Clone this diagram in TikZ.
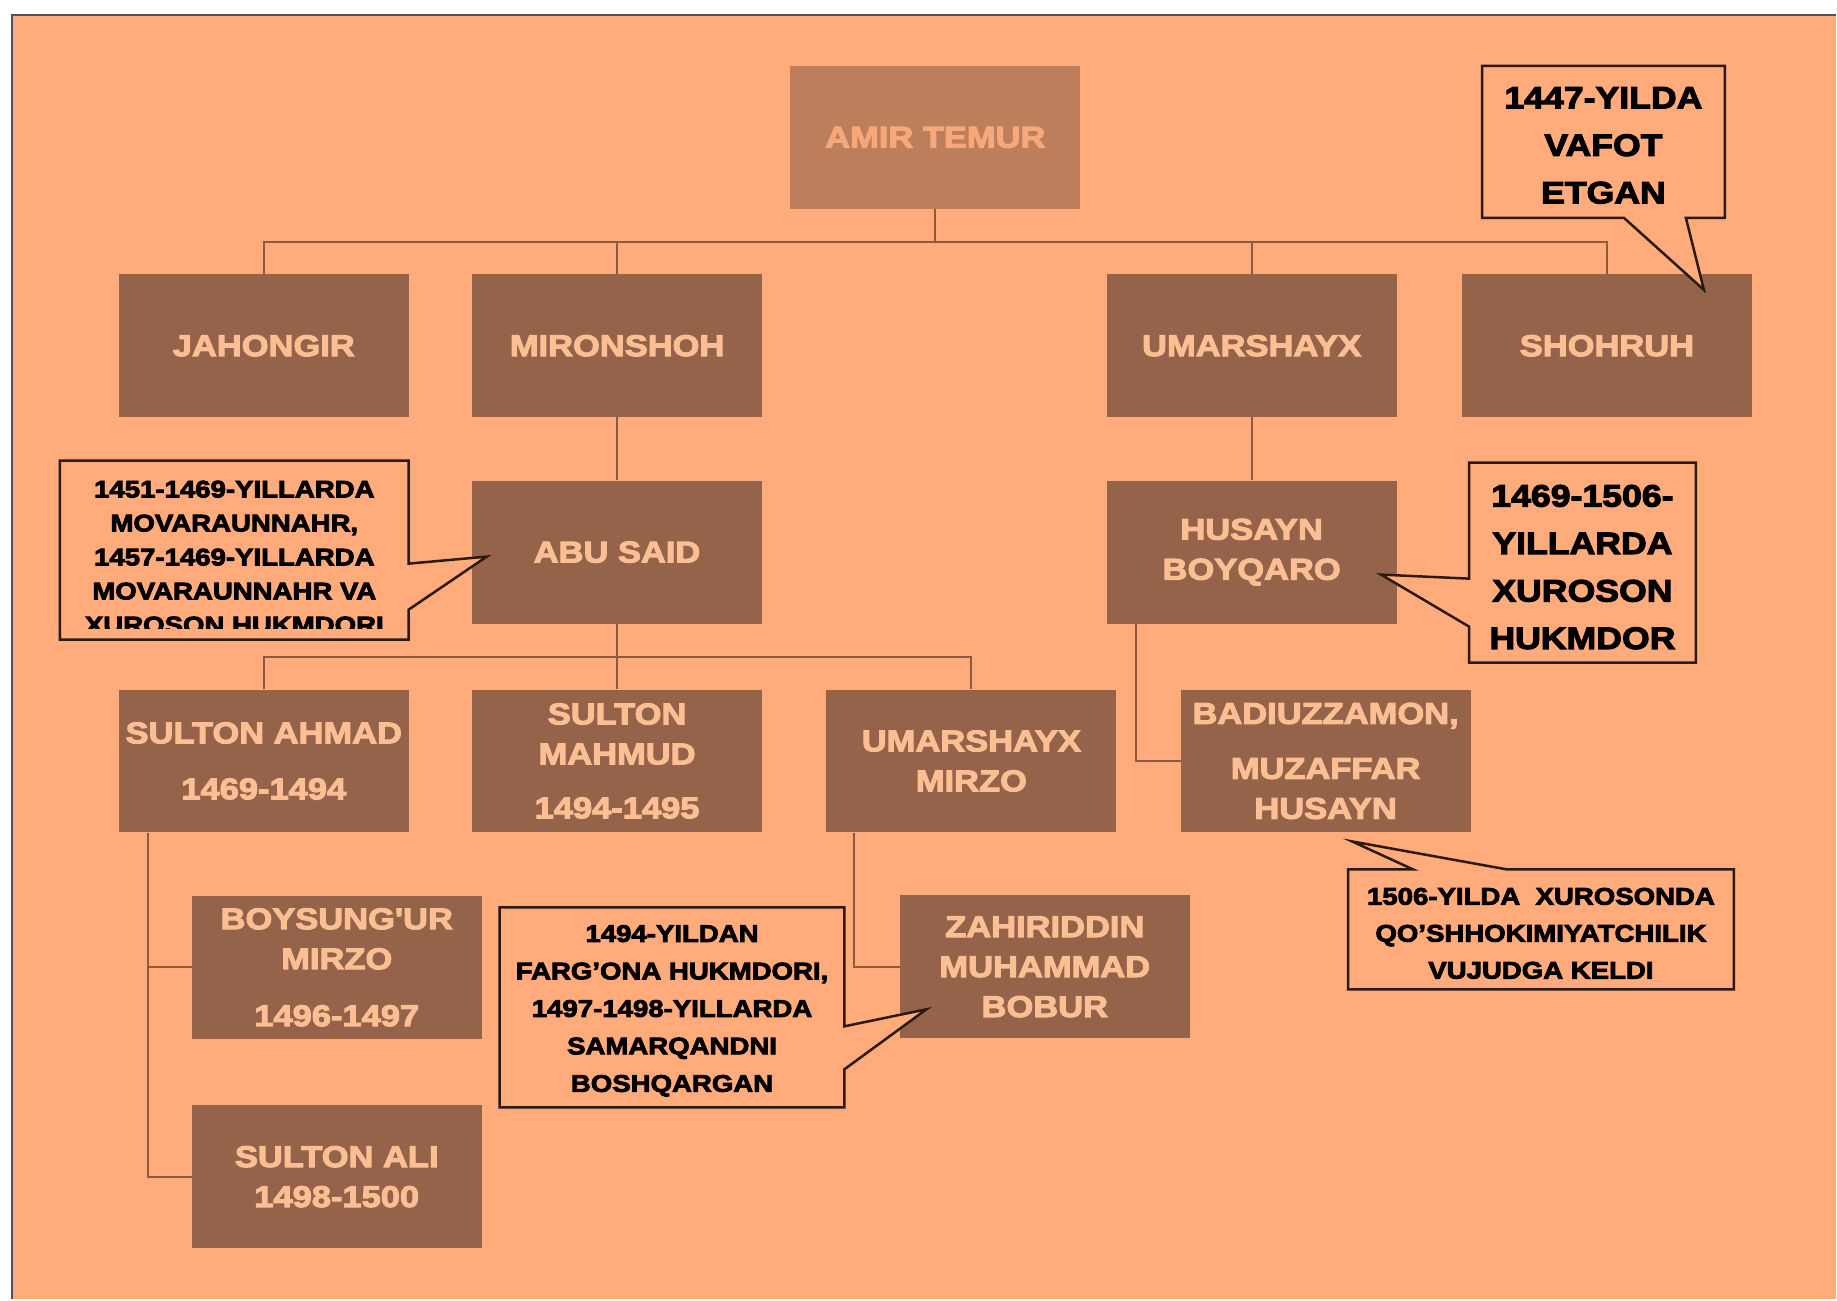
\documentclass[tikz,border=0pt]{standalone}
\usepackage{fontspec}
\newfontfamily\blk{Liberation Sans}[FakeStretch=1.15, Ligatures=TeXOff, BoldFeatures={FakeBold=3.5}]
\definecolor{bg}{HTML}{FFAB7B}
\definecolor{boxc}{HTML}{94634A}
\definecolor{boxt}{HTML}{FBBF93}
\definecolor{topc}{HTML}{BD7E5C}
\definecolor{topt}{HTML}{F7A87A}
\definecolor{linec}{HTML}{8E5A3C}
\definecolor{framec}{HTML}{4F5060}
\definecolor{callc}{HTML}{2A1A10}
\begin{document}
\begin{tikzpicture}[x=1pt,y=-1pt,
  person/.style={fill=boxc, text=boxt, minimum width=290pt, minimum height=143pt,
    inner sep=0pt, align=center, font=\blk\bfseries\fontsize{30}{40}\selectfont},
  link/.style={draw=linec, line width=2pt},
  callbox/.style={draw=callc, fill=bg, line width=2.5pt, line join=miter},
  calltext/.style={text=black, align=center, inner sep=0pt},
  bigcall/.style={calltext, font=\blk\bfseries\fontsize{31}{47.5}\selectfont},
  smallcall/.style={calltext, font=\blk\bfseries\fontsize{24}{34}\selectfont}
]
% page and frame
\fill[white] (0,0) rectangle (1837,1300);
\fill[bg] (12,15) rectangle (1837,1300);
\draw[framec, line width=2.5pt] (12,1300) -- (12,15) -- (1837,15);
\useasboundingbox (0,0) rectangle (1837,1300);

% boxes
\node[person, fill=topc, text=topt] (amir) at (936,137.5) {AMIR TEMUR};
\node[person] (jah)   at (264,346)    {JAHONGIR};
\node[person] (miron) at (617.5,346)  {MIRONSHOH};
\node[person] (umar)  at (1252.5,346) {UMARSHAYX};
\node[person] (shoh)  at (1608,346)   {SHOHRUH};
\node[person] (abu)   at (617.5,552.5)  {ABU SAID};
\node[person] (husayn) at (1252.5,552.5) {HUSAYN\\BOYQARO};
\node[person] (sahmad) at (264,761.5)  {SULTON AHMAD\\[16pt]1469-1494};
\node[person] (smahmud) at (617.5,761.5) {SULTON\\MAHMUD\\[14pt]1494-1495};
\node[person] (umirzo) at (972,761.5)  {UMARSHAYX\\MIRZO};
\node[person] (badi) at (1326.5,761.5) {BADIUZZAMON,\\[15pt]MUZAFFAR\\HUSAYN};
\node[person] (boys) at (337,968)   {BOYSUNG'UR\\MIRZO\\[17pt]1496-1497};
\node[person] (sali) at (337,1177.5) {SULTON ALI\\1498-1500};
\node[person] (bobur) at (1045.5,967.5) {ZAHIRIDDIN\\MUHAMMAD\\BOBUR};

% connectors
\draw[link] (amir.south) -- ++(0,33) coordinate (h1);
\draw[link] (jah.north) -- ++(0,-32) -| (shoh.north);
\draw[link] (miron.north) -- (miron.north |- h1);
\draw[link] (umar.north) -- (umar.north |- h1);
\draw[link] (miron.south) -- (abu.north);
\draw[link] (umar.south) -- (husayn.north);
\draw[link] (abu.south) -- (smahmud.north);
\coordinate (h2) at (617.5,657);
\draw[link] (sahmad.north) |- (h2) -| (umirzo.north);
\draw[link] ([xshift=-115.5pt]husayn.south) |- (badi.west);
\draw[link] ([xshift=-116pt]sahmad.south) |- (sali.west);
\draw[link] ([xshift=-116pt]sahmad.south) |- (boys.west);
\draw[link] ([xshift=-117pt]umirzo.south) |- (bobur.west);

% callout: Shohruh
\draw[callbox] (1483,66) -- (1726,66) -- (1726,218) -- (1687,218) -- (1705,290)
  -- (1625,218) -- (1483,218) -- cycle;
\node[bigcall] (cshoh) at (1604.5,145.5) {1447-YILDA\\VAFOT\\ETGAN};

% callout: Abu Said
\draw[callbox] (60,461) -- (409,461) -- (409,564) -- (487,557) -- (409,610)
  -- (409,640) -- (60,640) -- cycle;
\begin{scope}
\clip (60,461) rectangle (409,629);
\node[smallcall] (cabu) at (234.5,557.5) {1451-1469-YILLARDA\\MOVARAUNNAHR,\\1457-1469-YILLARDA\\MOVARAUNNAHR VA\\XUROSON HUKMDORI};
\end{scope}

% callout: Husayn Boyqaro
\draw[callbox] (1470,463) -- (1697,463) -- (1697,663) -- (1470,663) -- (1470,627)
  -- (1382,575) -- (1470,579) -- cycle;
\node[bigcall] (chus) at (1583.5,567.5) {1469-1506-\\YILLARDA\\XUROSON\\HUKMDOR};

% callout: Bobur
\draw[callbox] (500,908) -- (845,908) -- (845,1027) -- (927,1010) -- (845,1070)
  -- (845,1108) -- (500,1108) -- cycle;
\node[calltext, font=\blk\bfseries\fontsize{24}{37.5}\selectfont] (cbob) at (672.5,1011.5)
  {1494-YILDAN\\FARG’ONA HUKMDORI,\\1497-1498-YILLARDA\\SAMARQANDNI\\BOSHQARGAN};

% callout: 1506
\draw[callbox] (1349,870) -- (1414,870) -- (1353,842) -- (1508,870) -- (1735,870)
  -- (1735,990) -- (1349,990) -- cycle;
\node[calltext, font=\blk\bfseries\fontsize{24}{37}\selectfont] (c1506) at (1542,934)
  {1506-YILDA\ \ XUROSONDA\\QO’SHHOKIMIYATCHILIK\\VUJUDGA KELDI};
\end{tikzpicture}
\end{document}
